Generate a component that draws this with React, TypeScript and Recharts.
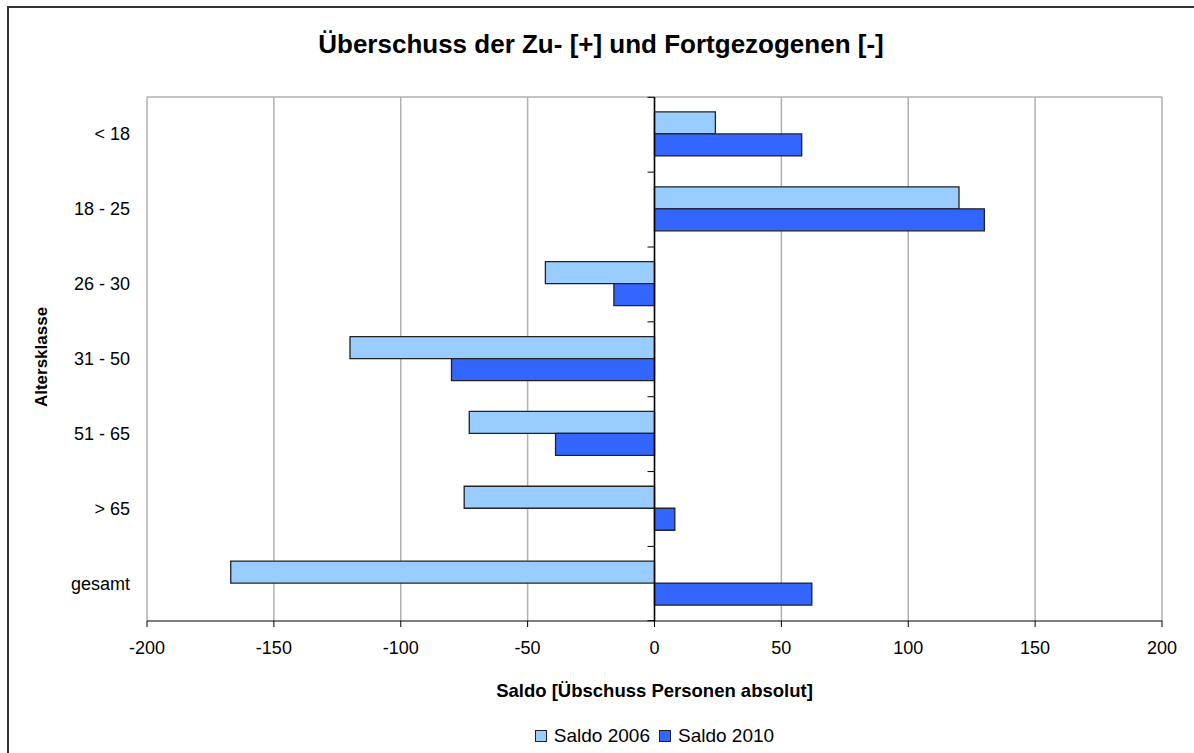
import {
  BarChart,
  Bar,
  XAxis,
  YAxis,
  CartesianGrid,
  ReferenceLine,
  Legend,
} from "recharts";

const categories = ["< 18", "18 - 25", "26 - 30", "31 - 50", "51 - 65", "> 65", "gesamt"];
const saldo2006 = [24, 120, -43, -120, -73, -75, -167];
const saldo2010 = [58, 130, -16, -80, -39, 8, 62];
const xTicks = [-200, -150, -100, -50, 0, 50, 100, 150, 200];

const data = categories.map((name, i) => ({
  name,
  s2006: saldo2006[i],
  s2010: saldo2010[i],
}));

const W = 1194;
const H = 753;
const PLOT_LEFT = 147;
const PLOT_RIGHT = 1162;
const PLOT_TOP = 97;
const PLOT_BOTTOM = 617;
const ZERO_X = (PLOT_LEFT + PLOT_RIGHT) / 2;
const STEP = (PLOT_BOTTOM - PLOT_TOP) / categories.length;
const FONT = "'Liberation Sans', Arial, sans-serif";

const C2006 = "#99ccff";
const C2010 = "#3366ff";

function CategoryTick(props: any) {
  const { y, payload, index } = props;
  return (
    <g>
      <text
        x={PLOT_LEFT - 17}
        y={y}
        textAnchor="end"
        dominantBaseline="central"
        fontSize={18}
        fontFamily={FONT}
        fill="#000"
      >
        {payload.value}
      </text>
      <line x1={ZERO_X - 7} x2={ZERO_X} y1={y - STEP / 2} y2={y - STEP / 2} stroke="#000" strokeWidth={1} />
      {index === categories.length - 1 && (
        <line x1={ZERO_X - 7} x2={ZERO_X} y1={y + STEP / 2} y2={y + STEP / 2} stroke="#000" strokeWidth={1} />
      )}
    </g>
  );
}

function LegendContent() {
  const items = [
    { label: "Saldo 2006", color: C2006 },
    { label: "Saldo 2010", color: C2010 },
  ];
  return (
    <div style={{ display: "flex", justifyContent: "center", alignItems: "center", fontFamily: FONT, fontSize: 19, height: 22 }}>
      {items.map((it, i) => (
        <span key={it.label} style={{ display: "inline-flex", alignItems: "center", marginRight: i === 0 ? 9 : 0 }}>
          <span
            style={{
              display: "inline-block",
              width: 10,
              height: 10,
              background: it.color,
              border: "1.5px solid #222",
              marginRight: 7,
            }}
          />
          {it.label}
        </span>
      ))}
    </div>
  );
}

export default function App() {
  return (
    <div style={{ position: "absolute", left: 0, top: 0, width: W, height: H, overflow: "hidden", background: "#fff" }}>
      <div
        style={{
          position: "absolute",
          left: 7,
          top: 6,
          width: W + 20,
          height: H + 20,
          borderLeft: "2px solid #333",
          borderTop: "2px solid #333",
        }}
      />
      <div
        style={{
          position: "absolute",
          left: 8,
          width: W - 8,
          top: 29,
          textAlign: "center",
          fontFamily: FONT,
          fontWeight: "bold",
          fontSize: 26,
          lineHeight: "30px",
          color: "#000",
        }}
      >
        Überschuss der Zu- [+] und Fortgezogenen [-]
      </div>
      <div style={{ position: "absolute", left: 0, top: 0 }}>
        <BarChart
          width={W}
          height={H}
          data={data}
          layout="vertical"
          margin={{ top: PLOT_TOP, right: W - PLOT_RIGHT, left: 20, bottom: 6 }}
          barCategoryGap="20%"
          barGap={0}
        >
          <CartesianGrid
            stroke="#b0b0b0"
            strokeWidth={1.5}
            horizontalCoordinatesGenerator={({ offset }: any) => [offset.top]}
          />
          <XAxis
            type="number"
            domain={[-200, 200]}
            ticks={xTicks}
            interval={0}
            height={104}
            stroke="#000"
            tickSize={6}
            tickMargin={14}
            tick={{ fontSize: 18, fontFamily: FONT, fill: "#000" }}
            label={(p: any) => (
              <text
                x={ZERO_X}
                y={p.viewBox.y + 69}
                textAnchor="middle"
                dominantBaseline="central"
                fontSize={18.5}
                fontWeight="bold"
                fontFamily={FONT}
                fill="#000"
              >
                Saldo [Übschuss Personen absolut]
              </text>
            )}
          />
          <YAxis
            type="category"
            dataKey="name"
            width={PLOT_LEFT - 20}
            axisLine={false}
            tickLine={false}
            interval={0}
            tick={<CategoryTick />}
            label={() => (
              <text
                x={41}
                y={(PLOT_TOP + PLOT_BOTTOM) / 2}
                transform={`rotate(-90 41 ${(PLOT_TOP + PLOT_BOTTOM) / 2})`}
                textAnchor="middle"
                dominantBaseline="central"
                fontSize={17}
                fontWeight="bold"
                fontFamily={FONT}
                fill="#000"
              >
                Altersklasse
              </text>
            )}
          />
          <ReferenceLine x={0} stroke="#000" strokeWidth={1.5} />
          <Legend
            verticalAlign="bottom"
            content={<LegendContent />}
            wrapperStyle={{ left: PLOT_LEFT, width: PLOT_RIGHT - PLOT_LEFT }}
          />
          <Bar dataKey="s2006" name="Saldo 2006" fill={C2006} stroke="#222" strokeWidth={1.3} isAnimationActive={false} />
          <Bar dataKey="s2010" name="Saldo 2010" fill={C2010} stroke="#222" strokeWidth={1.3} isAnimationActive={false} />
        </BarChart>
      </div>
    </div>
  );
}
